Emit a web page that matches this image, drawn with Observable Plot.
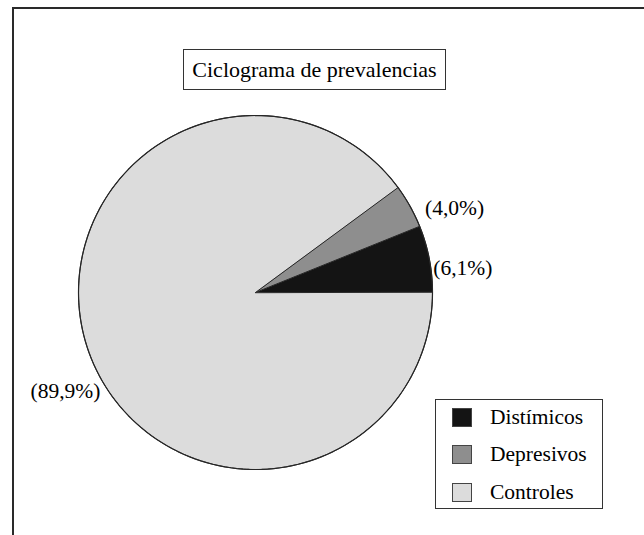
<!DOCTYPE html>
<html>
<head>
<meta charset="utf-8">
<script src="https://cdn.jsdelivr.net/npm/d3@7"></script>
<script src="https://cdn.jsdelivr.net/npm/@observablehq/plot@0.6"></script>
<style>
  html, body { margin: 0; padding: 0; background: #fff; }
  #wrap { position: relative; width: 644px; height: 535px; overflow: hidden; background: #fff;
          font-family: 'Liberation Serif', 'Times New Roman', serif; color: #000; }
  #wrap svg { position: absolute; left: 0; top: 0; }
  .frame { position: absolute; left: 12px; top: 7px; width: 700px; height: 600px;
           border-left: 2px solid #2a2a2a; border-top: 2px solid #2a2a2a; }
  .title { position: absolute; left: 183px; top: 49px; width: 263px; height: 41px;
           border: 1px solid #333; box-sizing: border-box; display: flex; align-items: center;
           justify-content: center; font-size: 22px; background: #fff; }
  .legend { position: absolute; left: 435px; top: 399px; width: 168px; height: 110px;
            border: 1px solid #333; box-sizing: border-box; background: #fff; }
  .row { position: absolute; left: 0; height: 22px; display: flex; align-items: center; font-size: 21.5px; }
  .sw { position: absolute; left: 16px; width: 20px; height: 19px; box-sizing: border-box; border: 1px solid #444; }
  .lab { position: absolute; left: 54px; white-space: nowrap; }
</style>
</head>
<body>
<div id="wrap">
  <div class="frame"></div>
</div>
<script>
// ---- data ----
const categories = ["Distímicos", "Depresivos", "Controles"];
const values = [6.1, 4.0, 89.9];
const labels = ["(6,1%)", "(4,0%)", "(89,9%)"];
const fills = ["#141414", "#8e8e8e", "#dcdcdc"];
const titleText = "Ciclograma de prevalencias";

// ---- build wedges (counter-clockwise from 3 o'clock) ----
const total = d3.sum(values);
let acc = 0;
const slices = categories.map((c, i) => {
  const a0 = acc / total * 2 * Math.PI;
  acc += values[i];
  const a1 = acc / total * 2 * Math.PI;
  const n = Math.max(4, Math.ceil((a1 - a0) / (Math.PI / 180)));
  const ring = [[0, 0]];
  for (let k = 0; k <= n; k++) {
    const a = a0 + (a1 - a0) * k / n;
    ring.push([Math.cos(a), Math.sin(a)]);
  }
  ring.push([0, 0]);
  const mid = (a0 + a1) / 2;
  return {
    category: c, value: values[i], label: labels[i], fill: fills[i],
    mx: Math.cos(mid), my: Math.sin(mid),
    geometry: {type: "Polygon", coordinates: [ring]}
  };
});
const circle = {type: "Polygon", coordinates: [d3.range(0, 361, 2).map(d => [Math.cos(d * Math.PI / 180), Math.sin(d * Math.PI / 180)])]};

const textStyle = {fontFamily: "'Liberation Serif', 'Times New Roman', serif", fontSize: 21.5, fill: "#000"};

const chart = Plot.plot({
  width: 644,
  height: 535,
  marginLeft: 78,
  marginRight: 212,
  marginTop: 115,
  marginBottom: 66,
  projection: {type: "reflect-y", domain: circle},
  marks: [
    Plot.geo(slices, {geometry: d => d.geometry, fill: d => d.fill, stroke: "#262626", strokeWidth: 1}),
    Plot.geo([circle], {fill: "none", stroke: "#262626", strokeWidth: 1.2}),
    Plot.text(slices.filter(d => d.category === "Distímicos"), {x: "mx", y: "my", text: "label", textAnchor: "start", dx: 4, dy: 9, ...textStyle}),
    Plot.text(slices.filter(d => d.category === "Depresivos"), {x: "mx", y: "my", text: "label", textAnchor: "start", dx: 15, dy: 2, ...textStyle}),
    Plot.text(slices.filter(d => d.category === "Controles"), {x: "mx", y: "my", text: "label", textAnchor: "end", dx: 13, dy: 43, ...textStyle})
  ]
});
const wrap = document.getElementById("wrap");
wrap.appendChild(chart);

// title box
const t = document.createElement("div");
t.className = "title";
t.textContent = titleText;
wrap.appendChild(t);

// legend box
const lg = document.createElement("div");
lg.className = "legend";
categories.forEach((c, i) => {
  const row = document.createElement("div");
  row.className = "row";
  row.style.top = (6 + i * 37.5) + "px";
  row.style.width = "100%";
  const sw = document.createElement("div");
  sw.className = "sw";
  sw.style.background = fills[i];
  const lab = document.createElement("div");
  lab.className = "lab";
  lab.textContent = c;
  row.appendChild(sw);
  row.appendChild(lab);
  lg.appendChild(row);
});
wrap.appendChild(lg);
</script>
</body>
</html>
